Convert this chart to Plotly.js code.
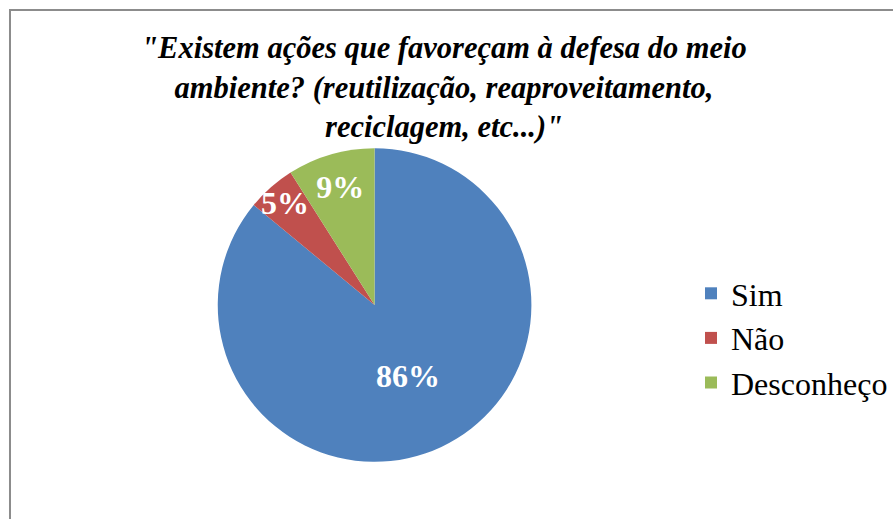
<!DOCTYPE html>
<html>
<head>
<meta charset="utf-8">
<script src="https://cdn.plot.ly/plotly-3.0.1.min.js"></script>
<style>
  body { margin: 0; padding: 0; background: #fff; }
  #chart { width: 893px; height: 519px; }
</style>
</head>
<body>
<div id="chart"></div>
<script>
// answers to the survey question
var categories = ["Sim", "Não", "Desconheço"];
var percents = [86, 5, 9];
var colors = ["#4F81BD", "#C0504D", "#9BBB59"];

var W = 893, H = 519;
var serif = "Liberation Serif";

var data = [{
  type: "pie",
  labels: categories,
  values: percents,
  sort: false,
  direction: "clockwise",
  rotation: 0,
  marker: { colors: colors, line: { width: 0 } },
  textinfo: "percent",
  texttemplate: "%{value}%",
  textposition: "inside",
  insidetextorientation: "horizontal",
  textfont: { family: serif, size: 32, color: "#fff", weight: "bold" },
  hoverinfo: "label+percent",
  domain: { x: [218 / W, 532 / W], y: [(H - 462) / H, (H - 148) / H] }
}];

var layout = {
  width: W,
  height: H,
  margin: { l: 0, r: 0, t: 0, b: 0 },
  paper_bgcolor: "#fff",
  uniformtext: { mode: "show", minsize: 32 },
  title: {
    text: "\"Existem ações que favoreçam à defesa do meio<br>ambiente? (reutilização, reaproveitamento,<br>reciclagem, etc...)\"",
    font: { family: serif, size: 30.5, color: "#000", weight: "bold", style: "italic" },
    x: 444 / W,
    xanchor: "center",
    y: 1 - 58 / H,
    yanchor: "top"
  },
  showlegend: true,
  legend: {
    x: 692 / W,
    y: 1 - 338 / H,
    xanchor: "left",
    yanchor: "middle",
    font: { family: serif, size: 32, color: "#000" },
    bgcolor: "rgba(0,0,0,0)"
  },
  shapes: [{
    type: "rect",
    xref: "paper", yref: "paper",
    x0: 10 / W, x1: 1.05,
    y0: -0.05, y1: 1 - 10 / H,
    line: { color: "#8c8c8c", width: 2 }
  }]
};

Plotly.newPlot("chart", data, layout, { displayModeBar: false });
</script>
</body>
</html>
